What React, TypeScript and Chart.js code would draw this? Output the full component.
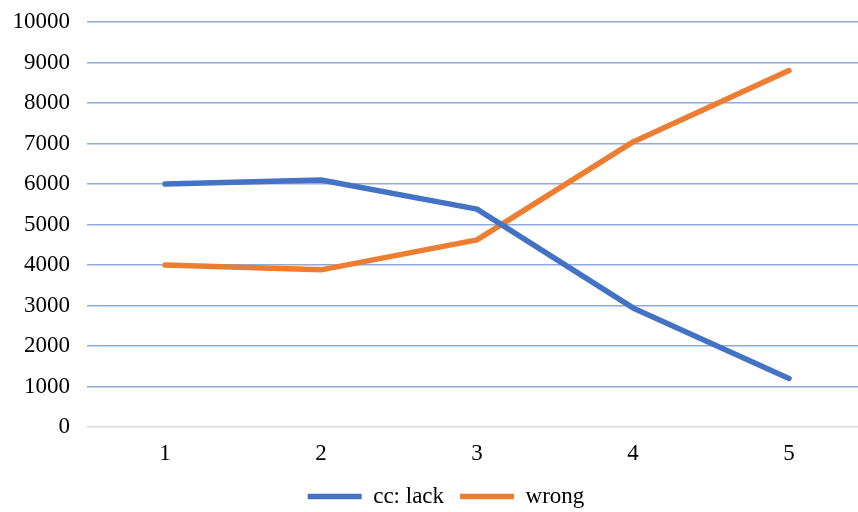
import React, { useEffect, useRef } from "react";
import { Chart, registerables } from "chart.js";

Chart.register(...registerables);

const categories = ["1", "2", "3", "4", "5"];
const ccLack = [6000, 6100, 5380, 2940, 1200];
const wrong = [4000, 3880, 4620, 7040, 8800];

export default function App() {
  const ref = useRef<HTMLCanvasElement>(null);
  useEffect(() => {
    const family = "'Liberation Serif', 'Times New Roman', serif";
    const font = { family, size: 23 };
    const chart = new Chart(ref.current!, {
      type: "line",
      data: {
        labels: categories,
        datasets: [
          {
            label: "cc: lack",
            data: ccLack,
            borderColor: "#4472C4",
            backgroundColor: "#4472C4",
            borderWidth: 5.5,
            borderCapStyle: "round",
            borderJoinStyle: "round",
            pointRadius: 0,
            pointStyle: "line",
            tension: 0,
          },
          {
            label: "wrong",
            data: wrong,
            borderColor: "#ED7D31",
            backgroundColor: "#ED7D31",
            borderWidth: 5.5,
            borderCapStyle: "round",
            borderJoinStyle: "round",
            pointRadius: 0,
            pointStyle: "line",
            tension: 0,
          },
        ],
      },
      options: {
        animation: false,
        responsive: false,
        devicePixelRatio: 1,
        layout: { padding: { top: 22, right: 0, left: 0, bottom: 0 } },
        plugins: {
          tooltip: { enabled: false },
          legend: {
            position: "bottom",
            labels: {
              usePointStyle: true,
              pointStyleWidth: 54,
              boxHeight: 6,
              color: "#000",
              font,
              padding: 16,
            },
          },
        },
        scales: {
          x: {
            offset: true,
            grid: { display: false, drawTicks: false },
            border: { display: false },
            ticks: { color: "#000", font, padding: 13 },
            afterFit: (s: any) => {
              s.height = 42;
              s.paddingLeft = 0;
              s.paddingRight = 0;
            },
          },
          y: {
            min: 0,
            max: 10000,
            grid: {
              drawTicks: false,
              lineWidth: 1.5,
              color: (ctx: any) => (ctx.index === 0 ? "#D9D9D9" : "#8FAADC"),
            },
            border: { display: false },
            ticks: {
              stepSize: 1000,
              color: "#000",
              font,
              padding: 17,
              callback: (v: any) => String(v),
            },
            afterFit: (s: any) => {
              s.width = 87;
              s.paddingTop = 0;
              s.paddingBottom = 0;
            },
          },
          spacer: {
            type: "linear",
            position: "right",
            min: 0,
            max: 10000,
            grid: { display: false, drawTicks: false },
            border: { display: false },
            ticks: { display: false },
            afterFit: (s: any) => {
              s.width = 25;
              s.paddingTop = 0;
              s.paddingBottom = 0;
            },
          },
        },
      },
    } as any);
    return () => chart.destroy();
  }, []);
  return (
    <div style={{ position: "fixed", left: 0, top: 0, width: 892, height: 518 }}>
      <canvas ref={ref} width={892} height={518} style={{ display: "block" }} />
    </div>
  );
}
